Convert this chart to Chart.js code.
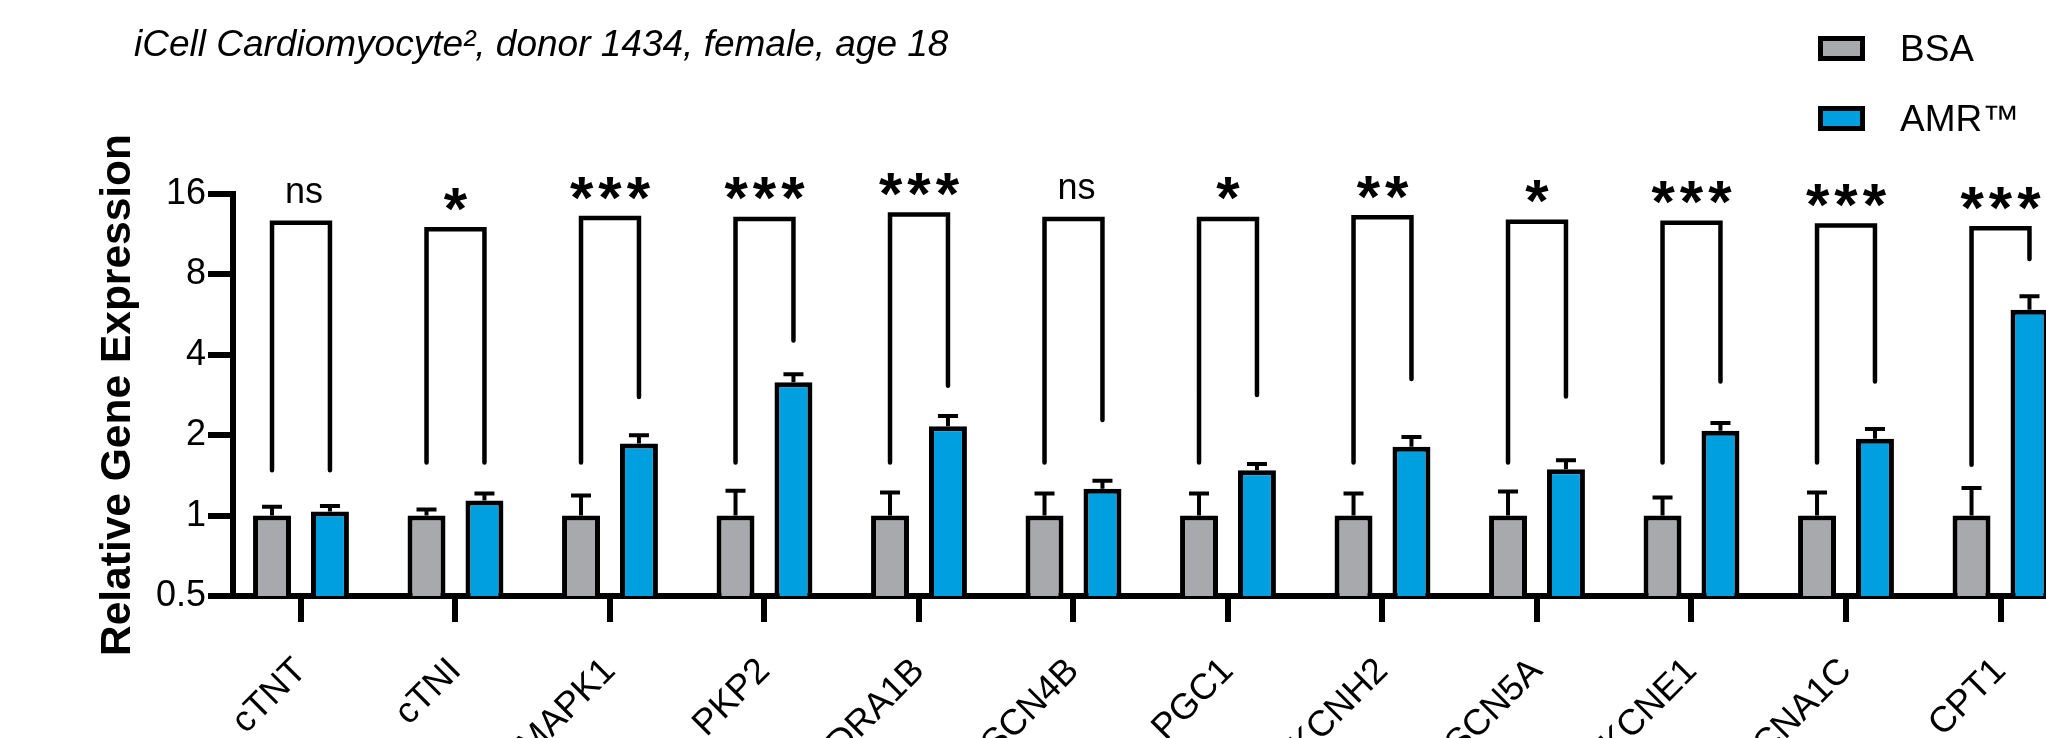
<!DOCTYPE html>
<html>
<head>
<meta charset="utf-8">
<script src="https://cdn.jsdelivr.net/npm/chart.js@4.4.1/dist/chart.umd.min.js"></script>
<style>
  html, body { margin: 0; padding: 0; background: #fff; overflow: hidden; }
  #wrap { width: 2046px; height: 738px; overflow: hidden; }
  canvas { display: block; }
</style>
</head>
<body>
<div id="wrap"><canvas id="chart" width="2110" height="738"></canvas></div>
<script>
/* ------------------------------------------------ */
// values (log2 y axis)

const genes = ['cTNT', 'cTNI', 'MAPK1', 'PKP2', 'ADRA1B', 'SCN4B', 'PGC1', 'KCNH2', 'SCN5A', 'KCNE1', 'CACNA1C', 'CPT1'];
const seriesNames = ['BSA', 'AMR™'];

const bsaValues = [1, 1, 1, 1, 1, 1, 1, 1, 1, 1, 1, 1];
const bsaErrTop = [1.08, 1.055, 1.19, 1.24, 1.22, 1.21, 1.21, 1.21, 1.23, 1.17, 1.22, 1.27];
const amrValues = [1.035, 1.14, 1.86, 3.16, 2.16, 1.26, 1.48, 1.81, 1.49, 2.08, 1.94, 5.9];
const amrErrTop = [1.087, 1.21, 2.0, 3.38, 2.36, 1.35, 1.56, 1.97, 1.61, 2.22, 2.11, 6.63];

// significance brackets
const bracketTop = [12.5, 11.8, 13.0, 12.9, 13.4, 12.9, 12.9, 13.1, 12.6, 12.5, 12.2, 11.9];
const bracketLeftEnd = [1.48, 1.58, 1.58, 1.58, 1.58, 1.58, 1.58, 1.58, 1.58, 1.58, 1.58, 1.55];
const bracketRightEnd = [1.48, 1.58, 2.78, 4.52, 3.06, 2.28, 2.83, 3.25, 2.79, 3.18, 3.18, 9.14];
const sigLabels = ['ns', '*', '***', '***', '***', 'ns', '*', '**', '*', '***', '***', '***'];

const yTicks = [0.5, 1, 2, 4, 8, 16];
const chartTitle = 'iCell Cardiomyocyte², donor 1434, female, age 18';
const yTitle = 'Relative Gene Expression';

const FONT = "Arial, 'Liberation Sans', Helvetica, sans-serif";
const GREY = '#a7a9ac';
const BLUE = '#009fdf';

/* ------------------------------------------------ */

const errorBars = {
  id: 'errorBars',
  afterDatasetsDraw(chart) {
    let ctx = chart.ctx;
    let y = chart.scales.y;
    let tops = [bsaErrTop, amrErrTop];
    ctx.save();
    ctx.strokeStyle = '#000';
    ctx.lineWidth = 4;
    chart.data.datasets.forEach((ds, d) => {
      chart.getDatasetMeta(d).data.forEach((bar, i) => {
        let yTop = y.getPixelForValue(tops[d][i]);
        ctx.beginPath();
        ctx.moveTo(bar.x, bar.y);
        ctx.lineTo(bar.x, yTop);
        ctx.moveTo(bar.x - 10, yTop);
        ctx.lineTo(bar.x + 10, yTop);
        ctx.stroke();
      });
    });
    ctx.restore();
  }
};

const brackets = {
  id: 'brackets',
  afterDatasetsDraw(chart) {
    let ctx = chart.ctx;
    let y = chart.scales.y;
    let left = chart.getDatasetMeta(0).data;
    let right = chart.getDatasetMeta(1).data;
    ctx.save();
    ctx.strokeStyle = '#000';
    ctx.fillStyle = '#000';
    ctx.lineWidth = 4.5;
    ctx.lineCap = 'round';
    ctx.textAlign = 'center';
    genes.forEach((g, i) => {
      let xl = left[i].x;
      let xr = right[i].x;
      let yt = y.getPixelForValue(bracketTop[i]);
      ctx.beginPath();
      ctx.moveTo(xl, y.getPixelForValue(bracketLeftEnd[i]));
      ctx.lineTo(xl, yt);
      ctx.lineTo(xr, yt);
      ctx.lineTo(xr, y.getPixelForValue(bracketRightEnd[i]));
      ctx.stroke();

      let label = sigLabels[i];
      let stars = label.includes('*');
      let cx = (xl + xr) / 2;
      let cy = yt - 30;
      ctx.font = stars ? 'bold 60px ' + FONT : '36px ' + FONT;
      let spacing = stars ? 5 : 0;
      if ('letterSpacing' in ctx) ctx.letterSpacing = spacing + 'px';
      let m = ctx.measureText(label);
      let base = cy + (m.actualBoundingBoxAscent - m.actualBoundingBoxDescent) / 2;
      ctx.fillText(label, cx + spacing / 2 + (stars ? 0 : 3), base);
      if ('letterSpacing' in ctx) ctx.letterSpacing = '0px';
    });
    ctx.restore();
  }
};

const titleAndLegend = {
  id: 'titleAndLegend',
  afterDraw(chart) {
    let ctx = chart.ctx;
    ctx.save();
    ctx.fillStyle = '#000';
    ctx.font = 'italic 37px ' + FONT;
    ctx.textBaseline = 'alphabetic';
    ctx.fillText(chartTitle, 134, 56);

    chart.data.datasets.forEach((ds, i) => {
      let cy = 48 + i * 70;
      ctx.fillStyle = '#000';
      ctx.fillRect(1818, cy - 12, 47, 25);
      ctx.fillStyle = ds.backgroundColor;
      ctx.fillRect(1823, cy - 7, 37, 15);
      ctx.fillStyle = '#000';
      ctx.font = '37px ' + FONT;
      ctx.textBaseline = 'middle';
      ctx.fillText(ds.label, 1900, cy + 3);
    });
    ctx.restore();
  }
};

/* ------------------------------------------------ */

function generateChart() {
  let ctx = document.getElementById('chart').getContext('2d');

  let datasets = [
    {
      label: seriesNames[0],
      data: bsaValues.map((v, i) => ({ x: i, y: v })),
      backgroundColor: GREY,
    },
    {
      label: seriesNames[1],
      data: amrValues.map((v, i) => ({ x: i, y: v })),
      backgroundColor: BLUE,
    },
  ];
  datasets.forEach((d) => {
    d.borderColor = '#000';
    d.borderWidth = 5;
    d.categoryPercentage = 0.75;
    d.barPercentage = 0.655;
  });

  let config = {
    type: 'bar',
    data: { datasets: datasets },
    options: {
      responsive: false,
      animation: false,
      devicePixelRatio: 1,
      layout: { padding: { left: 0, right: 10, top: 194, bottom: 0 } },
      plugins: {
        legend: { display: false },
        tooltip: { enabled: false },
        title: { display: false },
      },
      scales: {
        x: {
          type: 'linear',
          min: -0.44,
          max: 11.644,
          offset: false,
          z: 1,
          afterBuildTicks: (s) => { s.ticks = genes.map((g, i) => ({ value: i })); },
          afterFit: (s) => { s.height = 142; },
          ticks: {
            autoSkip: false,
            maxRotation: 45,
            minRotation: 45,
            padding: 28,
            color: '#000',
            font: { family: FONT, size: 36 },
            callback: (v) => genes[v],
          },
          grid: { offset: false, drawOnChartArea: false, drawTicks: true, tickLength: 26, lineWidth: 6, color: '#000' },
          border: { display: true, width: 6, color: '#000' },
        },
        y: {
          type: 'logarithmic',
          min: 0.5,
          max: 16,
          afterBuildTicks: (s) => { s.ticks = yTicks.map((v) => ({ value: v })); },
          afterFit: (s) => { s.width = 233; },
          ticks: {
            padding: 2,
            color: '#000',
            font: { family: FONT, size: 36 },
            callback: (v) => String(v),
          },
          grid: { drawOnChartArea: false, drawTicks: true, tickLength: 25, lineWidth: 6, color: '#000' },
          border: { display: true, width: 6, color: '#000' },
          title: {
            display: true,
            text: yTitle,
            color: '#000',
            font: { family: FONT, size: 42.5, weight: 'bold' },
            padding: { top: 93, bottom: 0 },
          },
        },
      },
    },
    plugins: [errorBars, brackets, titleAndLegend],
  };

  return new Chart(ctx, config);
}

generateChart();
</script>
</body>
</html>
